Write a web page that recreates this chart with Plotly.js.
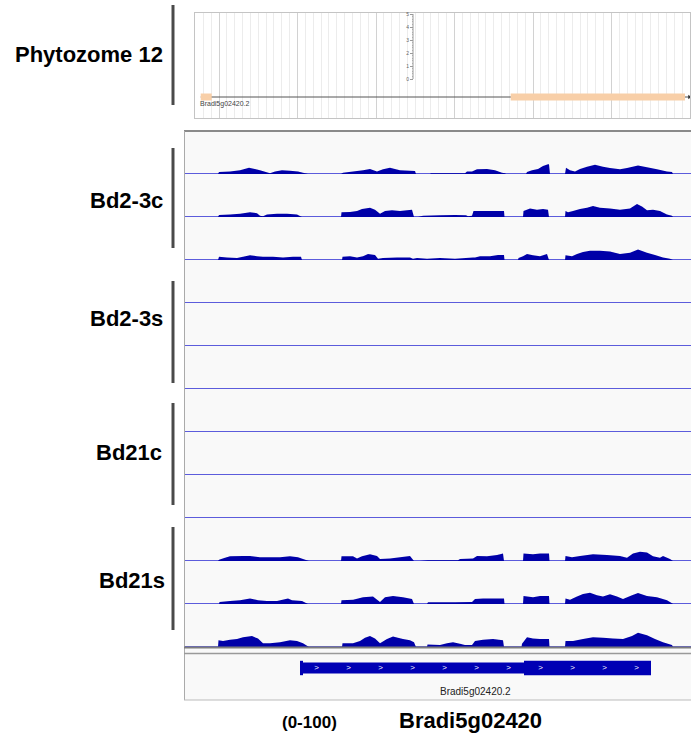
<!DOCTYPE html>
<html><head><meta charset="utf-8">
<script src="https://cdn.plot.ly/plotly-3.0.1.min.js"></script>
<style>html,body{margin:0;padding:0;background:#fff}</style>
</head><body><div id="chart" style="width:691px;height:737px"></div>
<script>
// ---------- DATA ----------
const groupLabels = ['Phytozome 12', 'Bd2-3c', 'Bd2-3s', 'Bd21c', 'Bd21s'];
const dataRangeLabel = '(0-100)';
const geneName = 'Bradi5g02420';
const transcriptName = 'Bradi5g02420.2';

// coverage tracks (position along locus, coverage 0-100)
const bd23c_1_pos = [218,219,230,240,249,260,270,275,282,290,298,303,308, 341,343,353,363,370,377,383,390,400,410,415,416, 430,431,465,467,472,477,487,495,502,505,506, 526,527,532,538,543,548,549,550, 565,566,570,575,580,587,595,603,610,620,627,638,647,657,667,672,673];
const bd23c_1_cov = [0,5,6,9,15,9,2,6,9,8,6,3,0, 0,3,6,9,12,6,11,15,9,8,7,0, 0,2,2,6,6,11,12,9,3,2,0, 0,5,9,12,19,23,23,0, 0,15,9,6,12,17,22,17,14,11,14,20,16,11,6,5,0];

const bd23c_2_pos = [218,219,230,240,250,257,260,263,267,277,287,297,302, 341,341.5,350,357,362,370,375,380,385,392,400,407,412,414, 418,423,440,455,466,468,472,473.5,504,504.5, 523,523.5,530,537,543,548,549, 565,565.5,568,573,580,587,593,600,610,620,630,637,642,647,653,660,667,672,673];
const bd23c_2_cov = [0,5,6,8,11,9,3,2,6,8,8,6,0, 0,11,12,14,19,22,17,8,14,16,14,16,17,0, 0,3,4,5,4,2,3,14,14,0, 0,14,20,17,19,17,0, 0,14,11,14,19,22,26,22,20,17,20,31,25,16,17,14,6,3,0];

const bd23c_3_pos = [218,219,227,237,243,250,257,263,273,283,293,301,302, 342,342.5,350,357,363,368,375,378,383,397,410,413,417,427,440,455,473,475,480,490,498,504,504.5, 518,518.5,523,527,533,540,547,549, 565,565.5,572,577,583,590,600,610,620,630,638,647,655,663,670,673];
const bd23c_3_cov = [0,8,6,5,8,11,9,8,8,6,8,8,0, 0,8,9,6,9,14,12,3,5,6,6,3,5,3,5,3,6,6,9,9,12,12,0, 0,5,9,14,11,9,14,0, 0,11,9,14,19,22,22,20,14,17,25,17,12,6,3,0];

// Bd2-3s and Bd21c: no coverage
const bd23s_pos = [218, 673];
const bd23s_1_cov = [0, 0];
const bd23s_2_cov = [0, 0];
const bd23s_3_cov = [0, 0];
const bd21c_pos = [218, 673];
const bd21c_1_cov = [0, 0];
const bd21c_2_cov = [0, 0];
const bd21c_3_cov = [0, 0];

const bd21s_1_pos = [218,219,225,230,243,250,260,270,280,290,298,303,309, 341,341.5,353,357,362,370,377,380,390,400,410,414, 420,428,458,460,473,477,487,497,503,504, 523,523.5,533,540,549,549.5, 565,565.5,572,580,593,607,620,627,633,640,647,653,660,663,670,673];
const bd21s_1_cov = [0,3,8,11,12,12,9,9,9,11,9,5,0, 0,11,11,6,11,16,12,5,6,9,12,0, 0,2,2,5,6,12,11,14,18,0, 0,18,16,18,18,0, 0,12,9,12,16,14,12,8,18,22,20,11,8,12,5,0];

const bd21s_2_pos = [219,219.5,230,240,250,258,267,277,288,292,302,308, 341,341.5,353,363,373,380,385,393,403,412,414, 427,428,455,472,475,483,504,504.5, 523,523.5,533,540,549,549.5, 565,565.5,570,577,583,590,597,603,610,617,623,632,638,647,657,667,672,673];
const bd21s_2_cov = [0,5,7,9,13,9,7,7,13,9,7,0, 0,9,10,16,18,5,16,19,16,12,0, 0,4,4,5,12,13,13,0, 0,19,16,19,19,0, 0,13,10,18,24,27,21,18,23,18,12,21,26,19,16,9,2,0];

const bd21s_3_pos = [218,218.5,223,230,237,243,252,258,263,270,280,290,297,303,309, 342,342.5,353,360,365,370,375,380,387,393,403,410,414,416, 427,427.5,440,447,453,460,465,472,475,483,493,503,504, 521.5,522,527,533,540,549,549.5, 565,565.5,573,583,593,603,613,623,632,638,647,655,663,672,673];
const bd21s_3_cov = [0,16,14,17,19,23,26,20,9,9,11,16,14,9,0, 0,9,9,14,22,26,20,9,19,25,19,16,11,0, 0,6,5,9,11,8,5,5,14,17,19,16,0, 0,8,23,20,19,19,0, 0,14,14,19,23,22,20,19,26,34,28,19,11,5,0];

// gene model (IGV track)
const geneSegStart = [300, 303, 524];
const geneSegEnd   = [303, 524, 651];
const geneSegKind  = ['cds', 'utr', 'cds'];

// Phytozome 12 gene model
const phyGeneStart = 767;
const phyGeneEnd = 6990;
const phyExonStart = [767, 4716];
const phyExonEnd   = [907, 6936];
const phyScaleTicks = [0, 1, 2, 3, 4, 5];

// ---------- RENDER ----------
const W = 691, H = 737;
const fx = p => p / W, fy = p => 1 - p / H;
const covColor = '#0000a8', baseColor = '#5c5cdc', geneColor = '#0000b4';
const FONT = 'Liberation Sans, Arial, Helvetica, sans-serif';

const tracks = [
  [bd23c_1_pos, bd23c_1_cov], [bd23c_2_pos, bd23c_2_cov], [bd23c_3_pos, bd23c_3_cov],
  [bd23s_pos, bd23s_1_cov], [bd23s_pos, bd23s_2_cov], [bd23s_pos, bd23s_3_cov],
  [bd21c_pos, bd21c_1_cov], [bd21c_pos, bd21c_2_cov], [bd21c_pos, bd21c_3_cov],
  [bd21s_1_pos, bd21s_1_cov], [bd21s_2_pos, bd21s_2_cov], [bd21s_3_pos, bd21s_3_cov]
];

const traces = [];
const layout = {
  width: W, height: H, margin: {l: 0, r: 0, t: 0, b: 0, pad: 0},
  paper_bgcolor: '#ffffff', plot_bgcolor: 'rgba(0,0,0,0)',
  showlegend: false, font: {family: FONT, color: '#000'},
  shapes: [], annotations: [], hovermode: false
};

layout.xaxis = {domain: [fx(184), 1], range: [184, 691], showgrid: false, zeroline: false,
  showticklabels: false, ticks: '', showline: false, fixedrange: true, anchor: 'y12'};

tracks.forEach((t, i) => {
  const yn = i === 0 ? 'y' : 'y' + (i + 1);
  const key = i === 0 ? 'yaxis' : 'yaxis' + (i + 1);
  const B = 174 + 43 * i;
  layout[key] = {domain: [fy(B + 1), fy(B - 42)], range: [-2.4, 100], anchor: 'x',
    showgrid: false, showticklabels: false, ticks: '', showline: false,
    zeroline: true, zerolinecolor: baseColor, zerolinewidth: 1, fixedrange: true};
  traces.push({type: 'scatter', x: t[0], y: t[1], xaxis: 'x', yaxis: yn, mode: 'none',
    fill: 'tozeroy', fillcolor: covColor, hoverinfo: 'skip'});
});

// gene track
layout.yaxis13 = {domain: [fy(680), fy(656)], range: [-12, 12], anchor: 'x', visible: false, fixedrange: true};
geneSegStart.forEach((s, i) => {
  const e = geneSegEnd[i];
  const h = geneSegKind[i] === 'cds' ? 7.2 : 5.4;
  traces.push({type: 'scatter', x: [s, e, e, s, s], y: [-h, -h, h, h, -h], xaxis: 'x', yaxis: 'y13',
    mode: 'none', fill: 'toself', fillcolor: geneColor, hoverinfo: 'skip'});
});
const chevX = [];
for (let p = geneSegStart[0] + 16.5; p < geneSegEnd[geneSegEnd.length - 1] - 8; p += 32) chevX.push(p);
traces.push({type: 'scatter', x: chevX, y: chevX.map(() => 0), xaxis: 'x', yaxis: 'y13', mode: 'text',
  text: chevX.map(() => '>'), textfont: {color: '#ffffff', size: 8, family: FONT}, hoverinfo: 'skip'});
layout.annotations.push({xref: 'x', yref: 'paper', x: (geneSegStart[0] + geneSegEnd[geneSegEnd.length - 1]) / 2,
  y: fy(691.5), text: transcriptName, showarrow: false, font: {size: 10, color: '#222', family: FONT},
  xanchor: 'center', yanchor: 'middle'});

// Phytozome panel
layout.xaxis2 = {domain: [fx(195), fx(690)], range: [694, 7000], anchor: 'y14', showgrid: true,
  gridcolor: '#d2d2d2', gridwidth: 1, tick0: 0, dtick: 1000,
  minor: {showgrid: true, dtick: 100, gridcolor: '#ececec', gridwidth: 1},
  showticklabels: false, ticks: '', zeroline: false, showline: true, mirror: true, linecolor: '#c4c4c4', fixedrange: true};
layout.yaxis14 = {domain: [fy(118), fy(13)], range: [-21, 84], anchor: 'x2', showgrid: false, zeroline: false,
  showticklabels: false, ticks: '', showline: true, mirror: true, linecolor: '#c4c4c4', fixedrange: true};
// small vertical scale (0-5) inside the Phytozome view, overlaid on the panel
layout.yaxis15 = {overlaying: 'y14', range: [-3, 5.077], anchor: 'free', position: fx(413), side: 'left',
  showline: false, ticks: 'outside', ticklen: 3, tickcolor: '#999', tickmode: 'array',
  tickvals: phyScaleTicks, ticktext: phyScaleTicks.map(String),
  tickfont: {size: 5, color: '#666', family: FONT},
  minor: {ticks: 'outside', ticklen: 1.5, tickcolor: '#c0c0c0', tickmode: 'array',
    tickvals: phyScaleTicks.slice(0, -1).flatMap(v => [v + 0.2, v + 0.4, v + 0.6, v + 0.8])},
  showgrid: false, zeroline: false, fixedrange: true};
traces.push({type: 'scatter', x: [], y: [], xaxis: 'x2', yaxis: 'y15', mode: 'lines', hoverinfo: 'skip'});
layout.shapes.push({type: 'line', xref: 'paper', yref: 'y15', x0: fx(413), x1: fx(413),
  y0: phyScaleTicks[0], y1: phyScaleTicks[phyScaleTicks.length - 1], line: {color: '#999', width: 1}});

traces.push({type: 'scatter', x: [phyGeneStart, phyGeneEnd], y: [0, 0], xaxis: 'x2', yaxis: 'y14',
  mode: 'lines', line: {color: '#555', width: 1}, hoverinfo: 'skip'});
phyExonStart.forEach((s, i) => {
  const e = phyExonEnd[i];
  traces.push({type: 'scatter', x: [s, e, e, s, s], y: [-3.5, -3.5, 3.5, 3.5, -3.5], xaxis: 'x2', yaxis: 'y14',
    mode: 'none', fill: 'toself', fillcolor: '#f8cfa8', hoverinfo: 'skip'});
});
traces.push({type: 'scatter', x: [phyGeneEnd], y: [0], xaxis: 'x2', yaxis: 'y14', mode: 'markers',
  marker: {symbol: 'triangle-right', size: 4, color: '#333'}, hoverinfo: 'skip'});
layout.annotations.push({xref: 'x2', yref: 'y14', x: phyGeneStart - 30, y: -7, text: transcriptName,
  showarrow: false, xanchor: 'left', yanchor: 'middle', font: {size: 7, color: '#444', family: FONT}});

// decorations: panels and bars
const S = layout.shapes;
S.push({type: 'rect', xref: 'paper', yref: 'paper', x0: fx(184), x1: 1, y0: fy(700), y1: fy(131),
  fillcolor: '#f9f9f9', line: {width: 0}, layer: 'below'});
S.push({type: 'line', xref: 'paper', yref: 'paper', x0: fx(184), x1: 1, y0: fy(131), y1: fy(131), line: {color: '#8a8a8a', width: 2}});
S.push({type: 'line', xref: 'paper', yref: 'paper', x0: fx(184.5), x1: fx(184.5), y0: fy(700), y1: fy(131), line: {color: '#aaa', width: 1}});
S.push({type: 'line', xref: 'paper', yref: 'paper', x0: fx(184), x1: 1, y0: fy(700), y1: fy(700), line: {color: '#bbb', width: 1}});
S.push({type: 'line', xref: 'paper', yref: 'paper', x0: fx(184), x1: 1, y0: fy(647.5), y1: fy(647.5), line: {color: '#7c7c7c', width: 2}});
S.push({type: 'line', xref: 'paper', yref: 'paper', x0: fx(184), x1: 1, y0: fy(653.5), y1: fy(653.5), line: {color: '#9a9a9a', width: 1.5}});

const bars = [[5, 105], [148, 248], [281, 383], [403, 505], [527, 630]];
const labelY = [55, 200, 318, 452, 580];
const labelRight = [165, 165, 165, 164, 167];
bars.forEach((b, i) => {
  S.push({type: 'line', xref: 'paper', yref: 'paper', x0: fx(173), x1: fx(173), y0: fy(b[1]), y1: fy(b[0]),
    line: {color: '#4a4a4a', width: 3}});
  layout.annotations.push({xref: 'paper', yref: 'paper', x: fx(labelRight[i]), y: fy(labelY[i]),
    text: '<b>' + groupLabels[i] + '</b>', showarrow: false, xanchor: 'right', yanchor: 'middle',
    font: {size: 22, color: '#000', family: FONT}});
});

layout.annotations.push({xref: 'paper', yref: 'paper', x: fx(309), y: fy(722), text: '<b>' + dataRangeLabel + '</b>',
  showarrow: false, xanchor: 'center', yanchor: 'middle', font: {size: 17, color: '#000', family: FONT}});
layout.annotations.push({xref: 'paper', yref: 'paper', x: fx(470), y: fy(720), text: '<b>' + geneName + '</b>',
  showarrow: false, xanchor: 'center', yanchor: 'middle', font: {size: 22, color: '#000', family: FONT}});

Plotly.newPlot('chart', traces, layout, {staticPlot: true, displayModeBar: false});
</script>
</body></html>
